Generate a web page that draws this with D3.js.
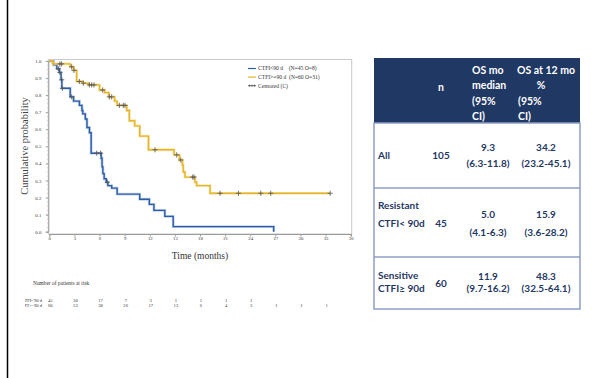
<!DOCTYPE html>
<html>
<head>
<meta charset="utf-8">
<script src="https://cdn.jsdelivr.net/npm/d3@7"></script>
<style>
  body { margin: 0; background: #fff; }
  svg { display: block; }
</style>
</head>
<body>
<div id="chart"></div>
<script>
// step points of the KM curves: time (months) and survival after the step
const resistantTimes = [0, 0.5, 0.9, 1.2, 1.4, 1.5, 2.5, 2.9, 3.6, 3.9, 4.0, 4.3, 4.5, 4.8, 5.0, 6.2, 6.3, 6.4, 6.55, 6.8, 7.0, 7.45, 8.1, 10.8, 11.95, 12.5, 13.8, 14.8, 26.8];
const resistantSurv  = [1.0, 0.978, 0.955, 0.933, 0.89, 0.84, 0.79, 0.765, 0.74, 0.71, 0.69, 0.66, 0.61, 0.58, 0.46, 0.43, 0.38, 0.34, 0.31, 0.29, 0.27, 0.255, 0.22, 0.19, 0.16, 0.125, 0.09, 0.03, 0.0];
const resistantCensor = [1.08, 1.27, 1.48, 1.56, 2.67, 5.66, 6.13, 6.93];

const sensitiveTimes = [0, 0.4, 2.5, 2.9, 3.27, 4.0, 4.7, 6.0, 6.6, 7.1, 7.8, 8.1, 9.25, 9.56, 10.2, 10.8, 11.85, 14.9, 15.55, 15.9, 16.0, 16.2, 17.4, 17.6, 19.2];
const sensitiveSurv  = [1.0, 0.983, 0.966, 0.945, 0.88, 0.87, 0.86, 0.83, 0.815, 0.79, 0.765, 0.74, 0.71, 0.65, 0.62, 0.56, 0.48, 0.45, 0.42, 0.39, 0.35, 0.32, 0.29, 0.27, 0.225];
const sensitiveCensor = [1.27, 1.47, 2.67, 2.95, 3.59, 4.06, 4.78, 5.06, 5.34, 6.37, 7.17, 7.45, 8.37, 8.84, 9.04, 12.63, 15.22, 15.7, 17.13, 17.29, 20.4, 22.6, 25.26, 26.45, 33.55];
const sensitiveEnd = 33.55;

const xTicks = [0, 3, 6, 9, 12, 15, 18, 21, 24, 27, 30, 33, 36];
const yTicks = [0, 0.1, 0.2, 0.3, 0.4, 0.5, 0.6, 0.7, 0.8, 0.9, 1.0];

const legendLabels = ["CTFI<90 d    (N=45 O=8)", "CTFI>=90 d  (N=60 O=31)", "Censored (C)"];

const riskLabels = ["CTFI<90 d", "CTFI>=90 d"];
const riskResistant = [45, 30, 17, 7, 3, 1, 1, 1, 1];
const riskSensitive = [60, 53, 38, 26, 17, 13, 6, 4, 3, 1, 1, 1];

// table on the right
const headerN = "n";
const headerMedian = ["OS mo", "median", "(95%", "CI)"];
const header12 = ["OS at 12 mo", "%", "(95%", "CI)"];
const groupLabels = [["All"], ["Resistant", "CTFI< 90d"], ["Sensitive", "CTFI\u2265 90d"]];
const groupN = ["105", "45", "60"];
const medianOS = ["9.3", "5.0", "11.9"];
const medianCI = ["(6.3-11.8)", "(4.1-6.3)", "(9.7-16.2)"];
const os12 = ["34.2", "15.9", "48.3"];
const os12CI = ["(23.2-45.1)", "(3.6-28.2)", "(32.5-64.1)"];

const W = 606, H = 378;
const svg = d3.select("#chart").append("svg")
  .attr("width", W).attr("height", H);

// slide edge line
svg.append("line")
  .attr("x1", 7.5).attr("x2", 7.5).attr("y1", 0).attr("y2", H)
  .attr("stroke", "#000").attr("stroke-width", 1.5);

// ---------- KM plot ----------
const serif = "'Liberation Serif', 'DejaVu Serif', serif";
const x = d3.scaleLinear().domain([0, 36]).range([49.3, 350.7]);
const y = d3.scaleLinear().domain([0, 1]).range([231.7, 61]);

const km = svg.append("g");
km.append("defs").append("clipPath").attr("id", "imgclip")
  .append("rect").attr("x", 25).attr("y", 0).attr("width", 340).attr("height", 378);

// frame
km.append("rect")
  .attr("x", 48.3).attr("y", 59.5).attr("width", 303.4).attr("height", 174.5)
  .attr("fill", "none").attr("stroke", "#c8c8c8").attr("stroke-width", 1);

// axes
const xAxis = km.append("g").attr("transform", "translate(0,234)")
  .call(d3.axisBottom(x).tickValues(xTicks).tickSize(2.5).tickFormat(d3.format("d")));
const yAxis = km.append("g").attr("transform", "translate(48.3,0)")
  .call(d3.axisLeft(y).tickValues(yTicks).tickSize(2.5).tickFormat(d3.format(".1f")));
[xAxis, yAxis].forEach(a => {
  a.select(".domain").attr("stroke", "#9a9a9a");
  a.selectAll(".tick line").attr("stroke", "#9a9a9a");
  a.selectAll("text").attr("font-family", serif).attr("font-size", 4.8).attr("fill", "#333");
});
xAxis.selectAll("text").attr("dy", "0.2em");
yAxis.selectAll("text").attr("dx", "-0.3em");
// minor ticks on y
km.append("g").selectAll("line")
  .data(d3.range(0, 1.001, 0.025))
  .join("line")
  .attr("x1", 46.8).attr("x2", 48.3)
  .attr("y1", d => y(d)).attr("y2", d => y(d))
  .attr("stroke", "#c0c0c0").attr("stroke-width", 0.6);

// axis titles
km.append("text")
  .attr("x", 200).attr("y", 258.5)
  .attr("text-anchor", "middle")
  .attr("font-family", serif).attr("font-size", 9.5).attr("fill", "#333")
  .text("Time (months)");
km.append("text")
  .attr("transform", "translate(28,146) rotate(-90)")
  .attr("text-anchor", "middle")
  .attr("font-family", serif).attr("font-size", 10.5).attr("fill", "#444")
  .text("Cumulative probability");

// curves
function stepPoints(times, surv, end) {
  const pts = times.map((t, i) => [t, surv[i]]);
  if (end !== undefined) pts.push([end, surv[surv.length - 1]]);
  return pts;
}
function survAt(times, surv, t) {
  let s = surv[0];
  times.forEach((tt, i) => { if (tt <= t) s = surv[i]; });
  return s;
}
const line = d3.line().x(d => x(d[0])).y(d => y(d[1])).curve(d3.curveStepAfter);

const curves = [
  { pts: stepPoints(resistantTimes, resistantSurv), color: "#2b5ca8", halo: "#a9bfe0",
    censor: resistantCensor.map(t => [t, survAt(resistantTimes, resistantSurv, t)]) },
  { pts: stepPoints(sensitiveTimes, sensitiveSurv, sensitiveEnd), color: "#e5b52a", halo: "#f3dc98",
    censor: sensitiveCensor.map(t => [t, survAt(sensitiveTimes, sensitiveSurv, t)]) }
];

curves.forEach(c => {
  km.append("path").datum(c.pts).attr("d", line)
    .attr("fill", "none").attr("stroke", c.halo).attr("stroke-width", 2.8).attr("opacity", 0.7);
  km.append("path").datum(c.pts).attr("d", line)
    .attr("fill", "none").attr("stroke", c.color).attr("stroke-width", 1.4);
});
curves.forEach(c => {
  const g = km.append("g");
  g.selectAll("path").data(c.censor).join("path")
    .attr("d", d => `M${x(d[0]) - 2.6},${y(d[1])}h5.2M${x(d[0])},${y(d[1]) - 2.6}v5.2`)
    .attr("stroke", "#555").attr("stroke-width", 0.8).attr("fill", "none");
});

// legend
const legend = km.append("g").attr("transform", "translate(248,68.5)");
legendLabels.forEach((lab, i) => {
  const gy = i * 8.6;
  if (i < 2) {
    legend.append("line").attr("x1", 0).attr("x2", 8).attr("y1", gy).attr("y2", gy)
      .attr("stroke", curves[i].color).attr("stroke-width", 1.2);
  } else {
    legend.append("line").attr("x1", 0).attr("x2", 8).attr("y1", gy).attr("y2", gy)
      .attr("stroke", "#444").attr("stroke-width", 0.6);
    [1.5, 4, 6.5].forEach(px => legend.append("path")
      .attr("d", `M${px - 1.2},${gy}h2.4M${px},${gy - 1.2}v2.4`)
      .attr("stroke", "#444").attr("stroke-width", 0.5));
  }
  legend.append("text").attr("x", 10).attr("y", gy + 1.9)
    .attr("font-family", serif).attr("font-size", 5.6).attr("fill", "#333")
    .attr("xml:space", "preserve")
    .text(lab);
});

// number at risk
km.append("text").attr("x", 33).attr("y", 284.5)
  .attr("font-family", serif).attr("font-size", 5.4).attr("fill", "#333")
  .text("Number of patients at risk");
[riskResistant, riskSensitive].forEach((row, r) => {
  const ry = 302 + r * 4.7;
  km.append("text").attr("x", 42).attr("y", ry)
    .attr("text-anchor", "end").attr("clip-path", "url(#imgclip)")
    .attr("font-family", serif).attr("font-size", 4.6).attr("fill", "#333")
    .text(riskLabels[r]);
  km.append("g").selectAll("text").data(row).join("text")
    .attr("x", (d, i) => x(xTicks[i]) + 1).attr("y", ry)
    .attr("text-anchor", "middle")
    .attr("font-family", serif).attr("font-size", 4.6).attr("fill", "#333")
    .text(d => d);
});

// ---------- table ----------
const sans = "Lato, 'Open Sans', sans-serif";
const navy = "#1f3864";
const tbl = svg.append("g");
const tLeft = 374, tRight = 580, hTop = 58, hBot = 123;
const rowEdges = [123, 188, 257, 309];

tbl.append("rect").attr("x", tLeft).attr("y", hTop)
  .attr("width", tRight - tLeft).attr("height", hBot - hTop).attr("fill", navy);
tbl.append("rect").attr("x", tLeft).attr("y", hBot)
  .attr("width", tRight - tLeft).attr("height", rowEdges[3] - hBot)
  .attr("fill", "none").attr("stroke", "#8d9fc6").attr("stroke-width", 1.5);
tbl.selectAll("line.sep").data(rowEdges.slice(1, 3)).join("line")
  .attr("x1", tLeft).attr("x2", tRight).attr("y1", d => d).attr("y2", d => d)
  .attr("stroke", "#8d9fc6").attr("stroke-width", 1.5);

function txt(g, t, tx, ty, anchor, color, size) {
  return g.append("text").attr("x", tx).attr("y", ty)
    .attr("text-anchor", anchor || "middle")
    .attr("font-family", sans).attr("font-weight", "bold")
    .attr("font-size", size || 10).attr("fill", color)
    .text(t);
}
const hLineY = [74, 89, 104.5, 120];
txt(tbl, headerN, 441, 91, "middle", "#fff", 10.5);
headerMedian.forEach((t, i) => txt(tbl, t, 472, hLineY[i], "start", "#fff", 10.5));
header12.forEach((t, i) => {
  if (i === 1) txt(tbl, t, 541, hLineY[i], "middle", "#fff", 10.5);
  else txt(tbl, t, i === 0 ? 517 : 518, hLineY[i], "start", "#fff", 10.5);
});

const rowText = [
  { lab: [159], n: 159, v: [150.5, 166.5] },
  { lab: [209, 226.5], n: 227, v: [218, 235.5] },
  { lab: [279, 292], n: 287, v: [279.5, 292] }
];
groupLabels.forEach((labs, r) => {
  labs.forEach((l, j) => txt(tbl, l, 378, rowText[r].lab[j], "start", navy));
  txt(tbl, groupN[r], 441, rowText[r].n, "middle", navy);
  txt(tbl, medianOS[r], 488, rowText[r].v[0], "middle", navy);
  txt(tbl, medianCI[r], 488, rowText[r].v[1], "middle", navy);
  txt(tbl, os12[r], 546, rowText[r].v[0], "middle", navy);
  txt(tbl, os12CI[r], 546, rowText[r].v[1], "middle", navy);
});
</script>
</body>
</html>
